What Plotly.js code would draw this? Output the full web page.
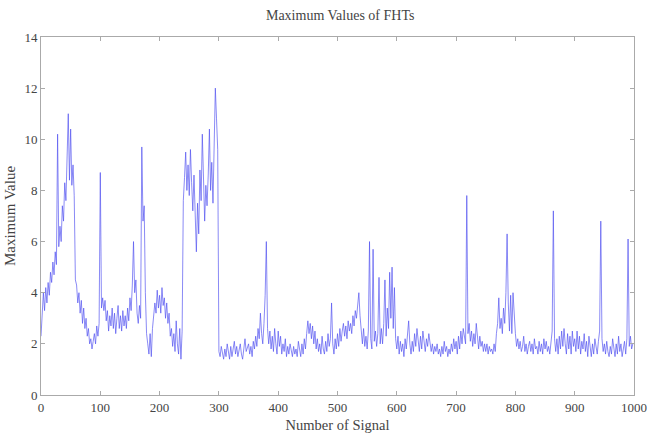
<!DOCTYPE html>
<html>
<head>
<meta charset="utf-8">
<script src="https://cdn.plot.ly/plotly-3.0.1.min.js"></script>
<style>html,body{margin:0;padding:0;background:#fff;}#chart{width:648px;height:438px;}</style>
</head>
<body>
<div id="chart"></div>
<script>
// Signal numbering: one value read every 2 signals
const signalStart = 0;
const signalStep = 2;

const maxValues = [
  // 0-48
  2.3,3.5,4.0,3.3,4.2,3.6,4.4,3.9,4.8,4.4,5.2,4.7,5.6,5.1,10.2,5.8,6.6,6.0,7.4,6.8,8.3,7.6,9.2,11.0,8.4,
  // 50-98
  10.4,8.2,9.0,7.8,4.5,4.3,3.6,4.0,3.2,3.7,2.8,3.4,2.6,3.0,2.3,2.6,2.0,2.2,1.8,2.1,2.4,2.0,2.7,2.3,2.8,
  // 100-148
  8.7,3.4,3.8,3.3,3.7,2.9,3.3,2.5,3.1,2.7,3.4,2.6,3.2,2.4,3.0,3.5,2.6,3.1,2.5,3.3,2.7,3.1,2.6,3.4,2.9,
  // 150-198
  3.8,3.3,4.3,6.0,4.0,4.5,3.2,2.8,3.5,3.0,9.7,6.8,7.4,4.0,2.4,2.0,1.6,2.4,1.5,2.6,3.0,3.6,3.2,4.1,3.4,
  // 200-248
  3.9,3.2,4.2,3.5,3.8,3.0,3.6,2.8,3.2,2.3,2.6,1.9,2.4,1.7,2.9,2.0,1.6,2.6,1.4,2.5,7.6,8.5,9.5,8.0,9.0,
  // 250-298
  7.8,9.6,8.3,7.2,8.6,6.9,5.6,7.5,6.3,8.8,7.6,10.2,7.8,6.8,8.2,7.4,8.6,10.4,8.0,9.1,7.5,9.6,12.0,10.8,9.6,
  // 300-348
  1.7,1.5,1.9,1.6,1.4,1.8,1.5,2.0,1.6,1.4,1.9,1.5,1.8,2.1,1.6,1.9,1.5,1.7,2.0,1.6,1.4,1.8,2.2,1.7,1.9,
  // 350-398
  2.0,1.6,1.9,1.5,2.1,1.8,2.3,1.9,2.6,2.2,3.2,2.4,2.0,2.8,3.9,6.0,2.6,2.0,2.5,1.8,2.3,1.7,2.6,2.0,1.6,
  // 400-448
  2.5,1.9,2.3,1.6,2.0,1.7,2.2,1.5,1.9,1.6,2.0,1.7,1.5,1.9,1.6,1.8,1.5,2.1,1.7,1.5,2.0,1.6,2.2,1.8,2.4,
  // 450-498
  2.9,2.4,2.8,2.2,2.7,2.0,2.5,1.8,2.2,1.7,2.0,1.6,2.3,1.8,1.6,2.1,1.7,2.4,1.9,2.2,3.6,2.0,1.6,2.2,1.8,
  // 500-548
  2.4,1.9,2.6,2.1,2.5,2.8,2.3,2.7,2.2,2.9,2.5,2.8,2.4,3.1,2.7,3.3,3.0,3.6,4.0,3.1,2.4,2.0,2.6,1.9,2.3,
  // 550-598
  1.8,2.5,6.0,2.2,1.8,5.7,2.1,2.5,1.9,2.4,4.6,2.0,2.6,2.0,2.8,4.5,2.3,3.4,2.6,4.8,3.0,5.0,2.6,4.2,2.2,
  // 600-648
  1.8,2.3,1.6,2.1,1.7,2.0,1.5,2.2,1.8,2.4,2.9,2.0,1.6,2.1,1.7,2.4,1.9,2.6,2.0,1.7,2.3,1.8,2.5,2.0,1.7,
  // 650-698
  2.2,1.9,2.4,2.1,1.7,2.0,1.6,1.9,1.7,2.0,1.6,1.8,1.5,1.9,1.6,2.1,1.7,1.9,1.5,1.8,1.6,2.0,1.7,2.2,1.8,
  // 700-748
  2.1,1.6,2.3,1.8,2.5,2.0,2.6,2.2,2.0,7.8,2.4,2.8,2.1,2.5,1.9,2.4,2.0,2.8,2.2,1.8,2.3,1.9,2.1,1.7,2.0,
  // 750-798
  1.7,2.0,1.6,1.9,1.7,1.8,1.6,2.0,1.7,2.4,2.8,3.8,2.6,3.0,2.4,3.4,2.8,4.0,6.3,3.6,2.5,3.9,2.4,4.0,3.0,
  // 800-848
  2.4,1.9,2.2,1.8,2.1,1.7,1.9,2.3,1.7,2.0,1.6,1.9,2.1,1.7,2.0,1.6,2.2,1.8,1.9,1.6,2.1,1.7,2.0,1.6,2.2,
  // 850-898
  1.8,2.1,1.7,1.9,1.6,2.0,2.5,7.2,2.2,1.7,2.2,1.6,2.3,1.8,2.5,1.9,2.6,2.0,1.6,2.4,1.8,2.3,1.6,2.5,1.9,
  // 900-948
  2.2,1.7,2.5,1.8,2.3,1.6,2.1,1.8,2.4,1.7,2.1,1.5,2.3,1.8,1.5,2.0,1.6,2.2,1.9,1.6,2.1,2.5,6.8,2.2,1.7,
  // 950-998
  2.0,1.6,2.1,1.7,1.5,1.9,1.6,2.2,1.8,1.5,2.0,1.6,2.3,1.7,2.0,1.5,1.8,2.1,1.6,2.2,6.1,1.9,2.3,1.8,2.0
];

const signalNumbers = maxValues.map((_, i) => signalStart + i * signalStep);

const xTicks = [0,100,200,300,400,500,600,700,800,900,1000];
const yTicks = [0,2,4,6,8,10,12,14];

const fontFam = '"Liberation Serif","Times New Roman",serif';

const trace = {
  x: signalNumbers,
  y: maxValues,
  type: 'scatter',
  mode: 'lines',
  line: {color: 'rgba(80,80,240,0.75)', width: 0.9},
  hoverinfo: 'skip'
};

const axisCommon = {
  showgrid: false,
  zeroline: false,
  showline: true,
  linecolor: '#aaa',
  linewidth: 1,
  mirror: 'allticks',
  ticks: 'inside',
  ticklen: 4,
  tickcolor: '#aaa',
  tickfont: {family: fontFam, size: 13, color: '#444'}
};

const layout = {
  width: 648,
  height: 438,
  margin: {l: 41, r: 14, t: 37, b: 43},
  paper_bgcolor: '#fff',
  plot_bgcolor: '#fff',
  showlegend: false,
  font: {family: fontFam, color: '#444'},
  title: {text: 'Maximum Values of FHTs', font: {family: fontFam, size: 14, color: '#444'}, x: 0.525, xanchor: 'center', y: 0.966, yanchor: 'middle'},
  xaxis: Object.assign({}, axisCommon, {
    range: [0, 1000],
    tickvals: xTicks,
    ticktext: xTicks.map(String),
    title: {text: 'Number of Signal', font: {family: fontFam, size: 14.5, color: '#444'}, standoff: 6}
  }),
  yaxis: Object.assign({}, axisCommon, {
    range: [0, 14],
    tickvals: yTicks,
    ticktext: yTicks.map(String),
    title: {text: 'Maximum Value', font: {family: fontFam, size: 15, color: '#444'}, standoff: 5}
  })
};

Plotly.newPlot('chart', [trace], layout, {displayModeBar: false, staticPlot: true});
</script>
</body>
</html>
